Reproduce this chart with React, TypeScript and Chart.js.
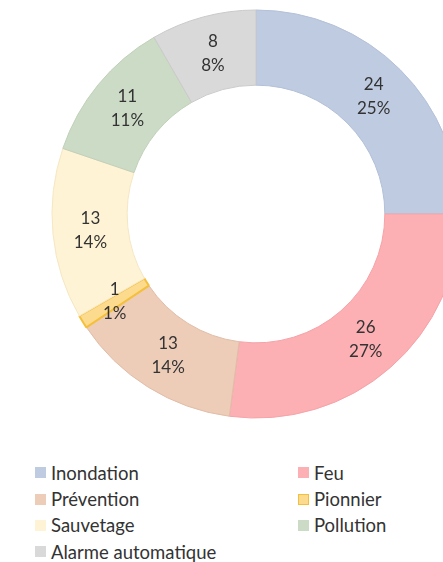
import React, { useEffect, useRef } from "react";
import { Chart, registerables } from "chart.js";

Chart.register(...registerables);

const categories = ["Inondation", "Feu", "Prévention", "Pionnier", "Sauvetage", "Pollution", "Alarme automatique"];
const values = [24, 26, 13, 1, 13, 11, 8];
const fillColors = ["#bfcbe0", "#fcb0b4", "#edccb8", "#fddb8e", "#fff3d5", "#ccdbc6", "#d9d9d9"];
const edgeColors = ["#b3c0d8", "#f5a3a8", "#e0bda8", "#f4c03c", "#f5e7c4", "#bfd0b8", "#cacaca"];
const edgeWidths = [1, 1, 1, 2, 1, 1, 1];

const FONT = "Lato, 'Noto Sans', sans-serif";
const TEXT = "#333333";

const labelPlugin = {
  id: "arcLabels",
  afterDatasetsDraw(chart: any) {
    const ctx = chart.ctx;
    const meta = chart.getDatasetMeta(0);
    const data = chart.data.datasets[0].data as number[];
    const total = data.reduce((a, b) => a + b, 0);
    ctx.save();
    ctx.fillStyle = TEXT;
    ctx.font = `17px ${FONT}`;
    ctx.textAlign = "center";
    ctx.textBaseline = "middle";
    meta.data.forEach((arc: any, i: number) => {
      const p = arc.tooltipPosition();
      const v = data[i];
      const pct = Math.round((v / total) * 100);
      ctx.fillText(String(v), p.x, p.y - 12);
      ctx.fillText(pct + "%", p.x, p.y + 12);
    });
    ctx.restore();
  },
};

function Legend() {
  return (
    <>
      {categories.map((c, i) => {
        const col = i % 2;
        const row = Math.floor(i / 2);
        const top = 472.7 + row * 26.3;
        const left = col === 0 ? 35 : 298;
        return (
          <div
            key={c}
            style={{
              position: "absolute",
              left,
              top: top - 13,
              height: 26,
              display: "flex",
              alignItems: "center",
              fontFamily: FONT,
              fontSize: 18.5,
              color: TEXT,
              whiteSpace: "nowrap",
            }}
          >
            <span
              style={{
                display: "inline-block",
                width: 11,
                height: 11,
                background: fillColors[i],
                boxSizing: "border-box",
                border: i === 3 ? `1px solid ${edgeColors[i]}` : "none",
                marginRight: 5,
              }}
            />
            <span>{c}</span>
          </div>
        );
      })}
    </>
  );
}

export default function App() {
  const ref = useRef<HTMLCanvasElement>(null);
  useEffect(() => {
    if (!ref.current) return;
    const chart = new Chart(ref.current, {
      type: "doughnut",
      data: {
        labels: categories,
        datasets: [
          {
            data: values,
            backgroundColor: fillColors,
            borderColor: edgeColors,
            borderWidth: edgeWidths,
            hoverOffset: 0,
          },
        ],
      },
      options: {
        responsive: false,
        animation: false,
        radius: 204,
        cutout: 132,
        layout: { padding: 0 },
        plugins: { legend: { display: false }, tooltip: { enabled: false } },
      } as any,
      plugins: [labelPlugin],
    });
    return () => chart.destroy();
  }, []);
  return (
    <div
      style={{
        position: "fixed",
        left: 0,
        top: 0,
        width: 443,
        height: 562,
        overflow: "hidden",
        background: "#ffffff",
      }}
    >
      <canvas
        ref={ref}
        width={420}
        height={420}
        style={{ position: "absolute", left: 46, top: 4, width: 420, height: 420 }}
      />
      <Legend />
    </div>
  );
}
